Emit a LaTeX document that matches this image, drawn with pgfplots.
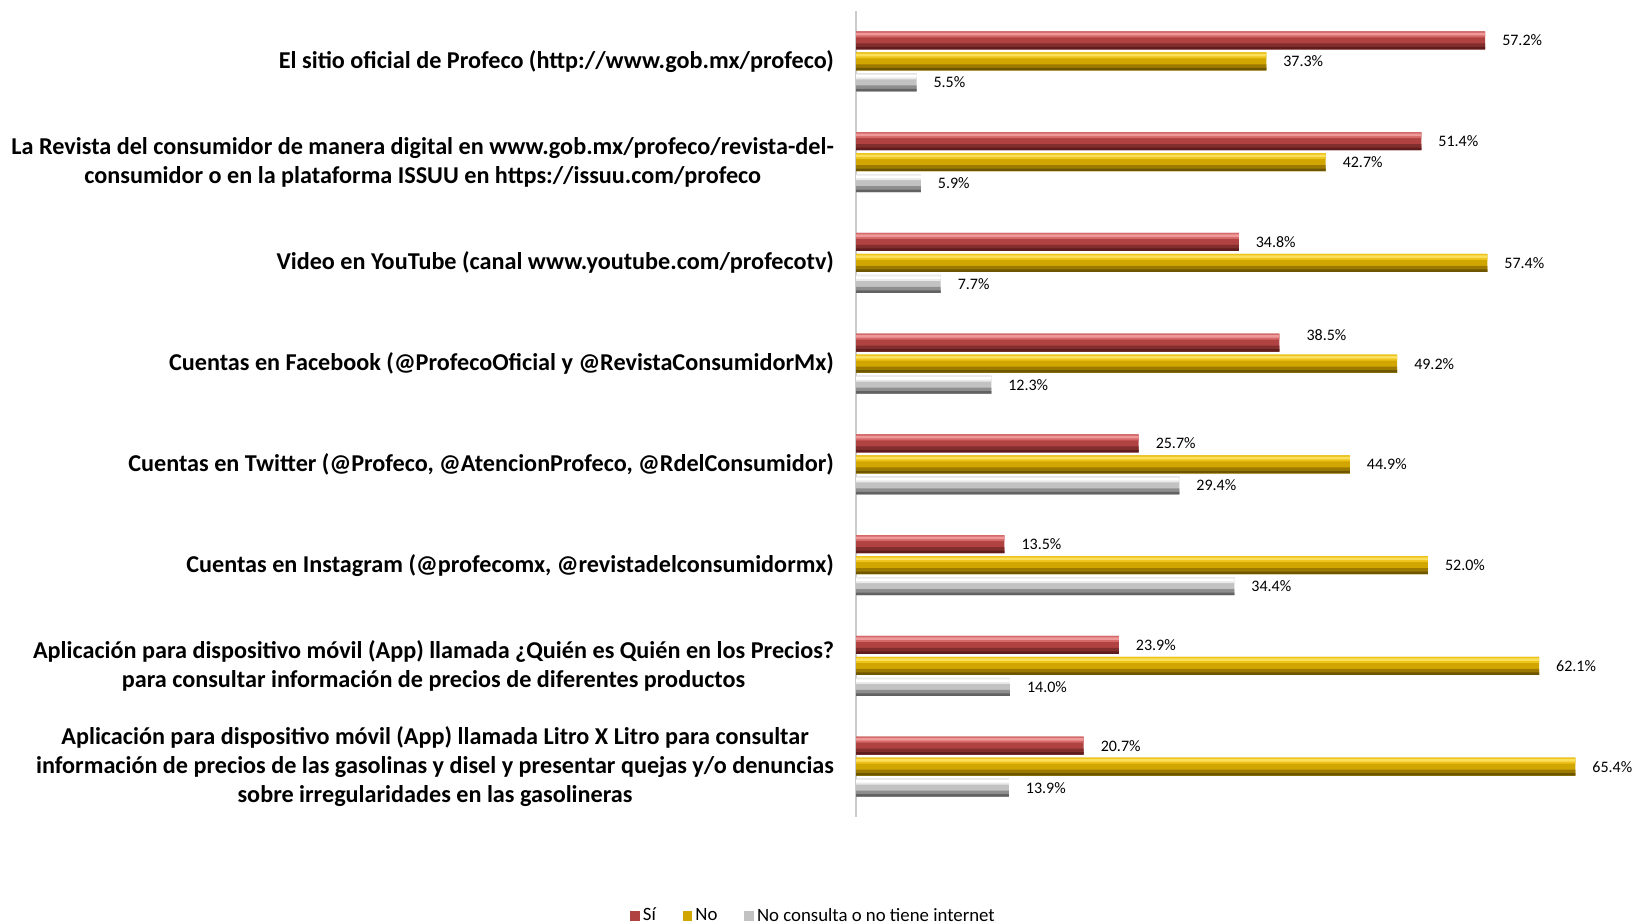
\documentclass[border=0pt]{standalone}
\usepackage{pgfplots}
\usepackage{pgfplotstable}
\pgfplotsset{compat=1.18}
\usepackage{fontspec}
\setmainfont{Carlito}

% shades for the bevelled bars
\definecolor{redH}{HTML}{EE9A9A}
\definecolor{redL}{HTML}{D56868}
\definecolor{redM}{HTML}{B04242}
\definecolor{redD}{HTML}{822E2E}
\definecolor{redDD}{HTML}{5E1C1C}
\definecolor{goldH}{HTML}{FBE060}
\definecolor{goldL}{HTML}{EEC41A}
\definecolor{goldM}{HTML}{D2A600}
\definecolor{goldD}{HTML}{9C7A00}
\definecolor{goldDD}{HTML}{6E5600}
\definecolor{grayH}{HTML}{FFFFFF}
\definecolor{grayL}{HTML}{EAEAEA}
\definecolor{grayM}{HTML}{C2C2C2}
\definecolor{grayD}{HTML}{8E8E8E}
\definecolor{grayDD}{HTML}{626262}

\pgfplotstableread{
pos si   no   nc
1   57.2 37.3 5.5
2   51.4 42.7 5.9
3   34.8 57.4 7.7
4   38.5 49.2 12.3
5   25.7 44.9 29.4
6   13.5 52.0 34.4
7   23.9 62.1 14.0
8   20.7 65.4 13.9
}\data

% the 38.5% label sits a little up and right of its bar
\pgfplotsset{nudge/.style={
  visualization depends on={value \coordindex \as \idx},
  every node near coord/.append style={
    xshift={ifthenelse(\idx==3,5,0)*1pt},
    yshift={ifthenelse(\idx==3,3.6,0)*1pt}}}}

% #1 column, #2 shift, #3 mid, #4 light, #5 highlight, #6 dark, #7 darker, #8 extra options
\newcommand\bevelbars[8]{%
  \addplot[fill=#3, draw=none, bar shift=#2,
    nodes near coords={\pgfmathprintnumber[fixed,fixed zerofill,precision=1]{\pgfplotspointmeta}\%},
    nodes near coords style={font=\fontsize{8}{9}\selectfont, anchor=west, xshift=5pt, text=black},#8]
    table[x=#1, y=pos]{\data};
  \addplot[forget plot, fill=#4, draw=none, bar width=3pt, bar shift={#2+3pt}] table[x=#1, y=pos]{\data};
  \addplot[forget plot, fill=#5, draw=none, bar width=1.3pt, bar shift={#2+3.1pt}] table[x=#1, y=pos]{\data};
  \addplot[forget plot, fill=#6, draw=none, bar width=3pt, bar shift={#2-3pt}] table[x=#1, y=pos]{\data};
  \addplot[forget plot, fill=#7, draw=none, bar width=1.2pt, bar shift={#2-3.9pt}] table[x=#1, y=pos]{\data};
}

\begin{document}
\begin{tikzpicture}[x=1pt,y=1pt]
\useasboundingbox (0,0) rectangle (821.5,462);
\begin{axis}[
    at={(428pt,53.5pt)}, anchor=south west,
    scale only axis, width=385pt, height=403pt,
    xbar, bar width=9pt,
    xmin=0, xmax=70,
    ymin=0.5, ymax=8.5, y dir=reverse,
    axis x line=none,
    axis y line*=left,
    y axis line style={draw=gray!40, line width=0.9pt, -},
    ytick={1,...,8},
    major tick length=0pt,
    yticklabels={
      {El sitio oficial de Profeco (http://www.gob.mx/profeco)},
      {La Revista del consumidor de manera digital en www.gob.mx/profeco/revista-del-\\consumidor o en la plataforma ISSUU en https://issuu.com/profeco},
      {Video en YouTube (canal www.youtube.com/profecotv)},
      {Cuentas en Facebook (@ProfecoOficial y @RevistaConsumidorMx)},
      {Cuentas en Twitter (@Profeco, @AtencionProfeco, @RdelConsumidor)},
      {Cuentas en Instagram (@profecomx, @revistadelconsumidormx)},
      {Aplicación para dispositivo móvil (App) llamada ¿Quién es Quién en los Precios?\\para consultar información de precios de diferentes productos},
      {Aplicación para dispositivo móvil (App) llamada Litro X Litro para consultar\\información de precios de las gasolinas y disel y presentar quejas y/o denuncias\\sobre irregularidades en las gasolineras}
    },
    yticklabel style={align=center, anchor=east, xshift=-7.5pt,
      font=\fontsize{12.1}{14.5}\selectfont\bfseries},
    /pgf/number format/assume math mode=true,
    legend image code/.code={\path[#1] (0pt,-2.4pt) rectangle (4.8pt,2.4pt);},
    legend columns=3,
    legend style={at={(-0.0545,-0.1228)}, anchor=center, draw=none, fill=none,
      font=\fontsize{9.4}{11}\selectfont,
      /tikz/every even column/.append style={column sep=12pt},
      nodes={inner sep=1.5pt}},
]
\bevelbars{si}{10.5pt}{redM}{redL}{redH}{redD}{redDD}{nudge}
\bevelbars{no}{0pt}{goldM}{goldL}{goldH}{goldD}{goldDD}{}
\bevelbars{nc}{-10.5pt}{grayM}{grayL}{grayH}{grayD}{grayDD}{}
\legend{Sí, No, No consulta o no tiene internet}
\end{axis}
\end{tikzpicture}
\end{document}
